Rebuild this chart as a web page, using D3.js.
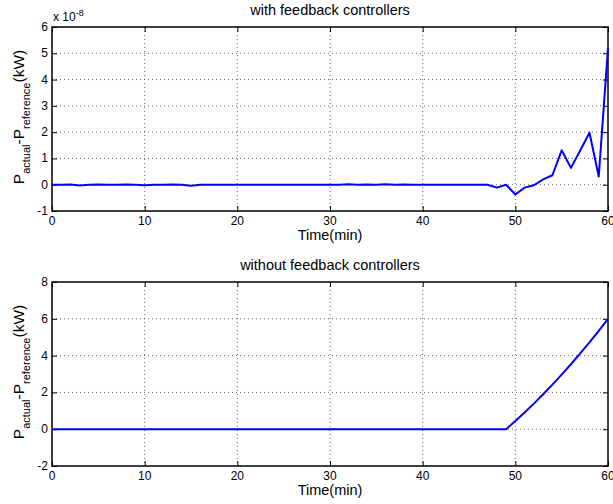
<!DOCTYPE html>
<html>
<head>
<meta charset="utf-8">
<script src="https://cdn.jsdelivr.net/npm/d3@7"></script>
<style>
  body { margin: 0; background: #fff; }
  text { font-family: "Liberation Sans", Arial, sans-serif; fill: #000; }
</style>
</head>
<body>
<svg id="fig" width="613" height="504"></svg>
<script>
// time axis (min), shared by both panels
var minutes = d3.range(0, 61);

// top panel: with feedback controllers (units of 1e-8 kW)
var withFeedback = [
  0, 0, 0.01, -0.03, 0, 0.01, 0, 0, 0.01, 0, -0.02,
  0, 0, 0.01, 0, -0.04, 0, 0, 0, 0, 0,
  0, 0, 0, 0, 0, 0, 0, 0, 0, 0,
  0, 0.02, 0, 0.01, 0, 0.02, 0, 0.01, 0, 0,
  0, 0, 0, 0, 0, 0, 0, -0.11, 0, -0.37,
  -0.11, -0.02, 0.2, 0.36, 1.31, 0.64, 1.3, 1.98, 0.31, 5.2
];

// bottom panel: without feedback controllers (kW)
var withoutFeedback = [
  0, 0, 0, 0, 0, 0, 0, 0, 0, 0, 0,
  0, 0, 0, 0, 0, 0, 0, 0, 0, 0,
  0, 0, 0, 0, 0, 0, 0, 0, 0, 0,
  0, 0, 0, 0, 0, 0, 0, 0, 0, 0,
  0, 0, 0, 0, 0, 0, 0, 0, 0, 0.44,
  0.91, 1.39, 1.9, 2.42, 2.97, 3.53, 4.12, 4.72, 5.35, 6.0
];

var xTicks = [0, 10, 20, 30, 40, 50, 60];
var yTicksTop = [-1, 0, 1, 2, 3, 4, 5, 6];
var yTicksBottom = [-2, 0, 2, 4, 6, 8];

var fig = d3.select("#fig");

function drawPanel(opts) {
  var left = 52, right = 608;
  var x = d3.scaleLinear().domain([0, 60]).range([left, right]);
  var y = d3.scaleLinear().domain(opts.yDomain).range([opts.bottom, opts.top]);
  var g = fig.append("g");

  // grid (dotted)
  g.selectAll(".gx").data(xTicks.slice(1, -1)).enter().append("line")
      .attr("x1", function(d) { return x(d); })
      .attr("x2", function(d) { return x(d); })
      .attr("y1", opts.top).attr("y2", opts.bottom)
      .attr("stroke", "#444").attr("stroke-width", 0.8)
      .attr("stroke-dasharray", "1,3");
  g.selectAll(".gy").data(opts.yTicks.slice(1, -1)).enter().append("line")
      .attr("y1", function(d) { return y(d); })
      .attr("y2", function(d) { return y(d); })
      .attr("x1", left).attr("x2", right)
      .attr("stroke", "#444").attr("stroke-width", 0.8)
      .attr("stroke-dasharray", "1,3");

  // inward ticks on all four sides
  var ax = [
    d3.axisBottom(x).tickValues(xTicks).tickSize(-5).tickFormat(""),
    d3.axisTop(x).tickValues(xTicks).tickSize(-5).tickFormat(""),
    d3.axisLeft(y).tickValues(opts.yTicks).tickSize(-5).tickFormat(""),
    d3.axisRight(y).tickValues(opts.yTicks).tickSize(-5).tickFormat("")
  ];
  var pos = [
    [0, opts.bottom], [0, opts.top], [left, 0], [right, 0]
  ];
  ax.forEach(function(a, i) {
    var ag = g.append("g")
        .attr("transform", "translate(" + pos[i][0] + "," + pos[i][1] + ")")
        .call(a);
    ag.select(".domain").remove();
    ag.selectAll("line").attr("stroke", "#000").attr("stroke-width", 1);
  });

  // box
  g.append("rect")
      .attr("x", left).attr("y", opts.top)
      .attr("width", right - left).attr("height", opts.bottom - opts.top)
      .attr("fill", "none").attr("stroke", "#000").attr("stroke-width", 1.5);

  // tick labels
  g.selectAll(".xl").data(xTicks).enter().append("text")
      .attr("x", function(d) { return x(d); })
      .attr("y", opts.bottom + 14)
      .attr("text-anchor", "middle")
      .attr("font-size", 12)
      .text(function(d) { return d; });
  g.selectAll(".yl").data(opts.yTicks).enter().append("text")
      .attr("x", left - 4)
      .attr("y", function(d) { return y(d) + 4; })
      .attr("text-anchor", "end")
      .attr("font-size", 12)
      .text(function(d) { return d; });

  // data line
  var line = d3.line()
      .x(function(d, i) { return x(minutes[i]); })
      .y(function(d) { return y(d); });
  g.append("path")
      .datum(opts.values)
      .attr("d", line)
      .attr("fill", "none")
      .attr("stroke", "#0000ff")
      .attr("stroke-width", 2)
      .attr("stroke-linejoin", "round");

  // title and x label
  g.append("text")
      .attr("x", (left + right) / 2).attr("y", opts.top - 12)
      .attr("text-anchor", "middle").attr("font-size", 14.5)
      .text(opts.title);
  g.append("text")
      .attr("x", (left + right) / 2).attr("y", opts.bottom + 29)
      .attr("text-anchor", "middle").attr("font-size", 14.5)
      .text("Time(min)");

  // y label with subscripts
  var cy = (opts.top + opts.bottom) / 2 - 2;
  var yl = g.append("text")
      .attr("transform", "translate(24," + cy + ") rotate(-90)")
      .attr("text-anchor", "middle")
      .attr("font-size", 15.5);
  yl.append("tspan").text("P");
  yl.append("tspan").attr("font-size", 11).attr("dy", 6).text("actual");
  yl.append("tspan").attr("dy", -6).text("-P");
  yl.append("tspan").attr("font-size", 11).attr("dy", 6).text("reference");
  yl.append("tspan").attr("dy", -6).text("(kW)");

  return g;
}

drawPanel({
  top: 27, bottom: 211, yDomain: [-1, 6], yTicks: yTicksTop,
  values: withFeedback, title: "with feedback controllers"
});
drawPanel({
  top: 282, bottom: 466, yDomain: [-2, 8], yTicks: yTicksBottom,
  values: withoutFeedback, title: "without feedback controllers"
});

// exponent label on top panel
var ex = fig.append("text").attr("x", 53).attr("y", 21).attr("font-size", 12);
ex.append("tspan").text("x 10");
ex.append("tspan").attr("font-size", 9).attr("dy", -5).text("-8");
</script>
</body>
</html>
